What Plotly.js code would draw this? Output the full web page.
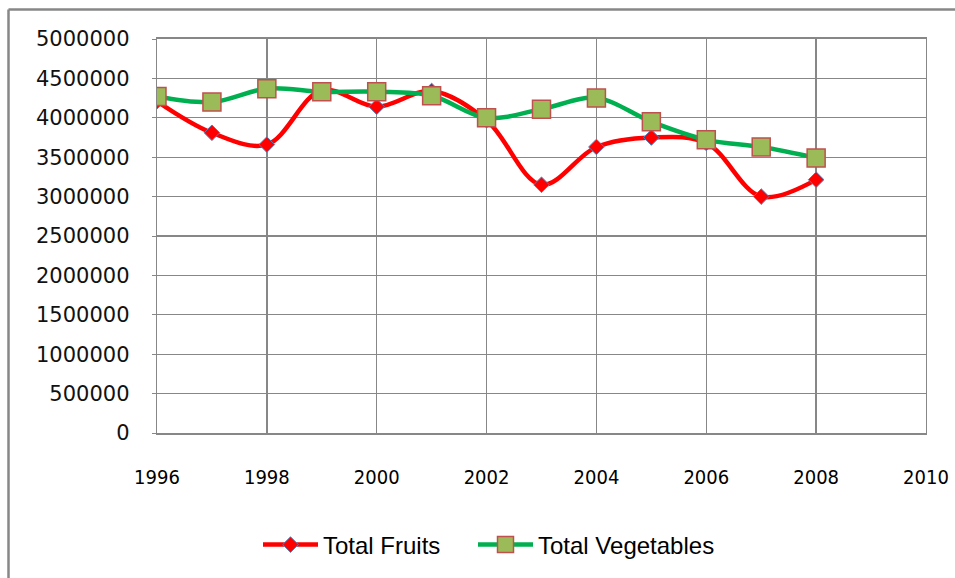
<!DOCTYPE html>
<html>
<head>
<meta charset="utf-8">
<script src="https://cdn.plot.ly/plotly-3.0.1.min.js"></script>
<style>html,body{margin:0;padding:0;background:#fff;}#chart{width:955px;height:578px;}</style>
</head>
<body>
<div id="chart"></div>
<script>
const years = [1996, 1997, 1998, 1999, 2000, 2001, 2002, 2003, 2004, 2005, 2006, 2007, 2008];
const totalFruits = [4210000, 3810000, 3660000, 4350000, 4140000, 4340000, 3970000, 3150000, 3630000, 3750000, 3680000, 3000000, 3215000];
const totalVegetables = [4270000, 4200000, 4370000, 4330000, 4330000, 4280000, 4000000, 4110000, 4250000, 3950000, 3720000, 3630000, 3490000];
const yTicks = [0, 500000, 1000000, 1500000, 2000000, 2500000, 3000000, 3500000, 4000000, 4500000, 5000000];
const xTicks = [1996, 1998, 2000, 2002, 2004, 2006, 2008, 2010];

const W = 955, H = 578, L = 157, R = 29, T = 39, B = 144;
const pw = W - L - R, ph = H - T - B;
const px = x => (x - L) / pw;
const py = y => (H - B - y) / ph;

const traces = [
  {
    x: years, y: totalFruits, name: 'Total Fruits', type: 'scatter', mode: 'lines+markers', legend: 'legend',
    line: {color: '#FF0000', width: 4.5, shape: 'spline', smoothing: 1},
    marker: {symbol: 'diamond', size: 12, color: '#FF0000', line: {color: '#4F81BD', width: 1}}
  },
  {
    x: years, y: totalVegetables, name: 'Total Vegetables', type: 'scatter', mode: 'lines+markers', legend: 'legend2',
    line: {color: '#00B050', width: 4.5, shape: 'spline', smoothing: 1},
    marker: {symbol: 'square', size: 18, color: '#9BBB59', line: {color: '#C0504D', width: 1.5}}
  }
];

const legendBase = {
  orientation: 'h', yanchor: 'middle', y: py(545), xanchor: 'left',
  font: {family: 'Liberation Sans, sans-serif', size: 24, color: '#000'},
  itemwidth: 55, bgcolor: 'rgba(0,0,0,0)'
};

const layout = {
  width: W, height: H,
  margin: {l: L, r: R, t: T, b: B, pad: 0},
  paper_bgcolor: '#fff', plot_bgcolor: '#fff',
  showlegend: true,
  xaxis: {
    range: [1996, 2010], tickvals: xTicks, ticktext: xTicks.map(String),
    showgrid: true, gridcolor: '#878787', gridwidth: 1.3,
    showline: true, linecolor: '#878787', linewidth: 2, mirror: true,
    zeroline: false, ticks: '', ticklabelstandoff: 25,
    tickfont: {family: 'DejaVu Sans Condensed, Liberation Sans, sans-serif', size: 20, color: '#000'}
  },
  yaxis: {
    range: [0, 5000000], tickvals: yTicks, ticktext: yTicks.map(String),
    showgrid: true, gridcolor: '#878787', gridwidth: 1.3,
    showline: true, linecolor: '#878787', linewidth: 1.3, mirror: true,
    zeroline: false, ticks: 'outside', ticklen: 4, tickcolor: '#878787', ticklabelstandoff: 18,
    tickfont: {family: 'DejaVu Sans, sans-serif', size: 21, color: '#111'}
  },
  legend: Object.assign({}, legendBase, {x: px(258)}),
  legend2: Object.assign({}, legendBase, {x: px(473)}),
  shapes: [
    {type: 'line', xref: 'paper', yref: 'paper', x0: px(8.5), x1: px(960), y0: py(9.5), y1: py(9.5), line: {color: '#878787', width: 2.5}},
    {type: 'line', xref: 'paper', yref: 'paper', x0: px(8.5), x1: px(8.5), y0: py(9.5), y1: py(590), line: {color: '#878787', width: 2.5}}
  ]
};

Plotly.newPlot('chart', traces, layout, {displayModeBar: false, staticPlot: true});
</script>
</body>
</html>
